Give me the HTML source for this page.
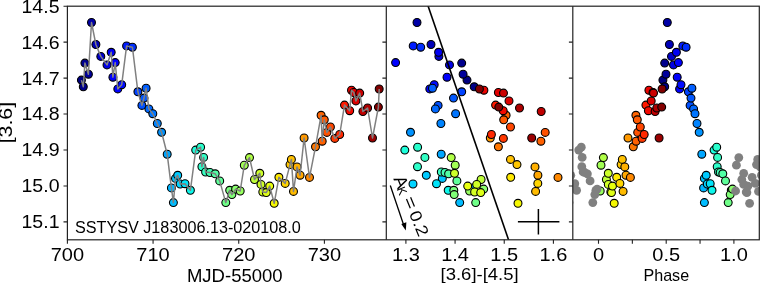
<!DOCTYPE html><html><head><meta charset="utf-8"><style>html,body{margin:0;padding:0;background:#fff;width:760px;height:285px;overflow:hidden}svg{display:block;will-change:transform}text{font-family:"Liberation Sans",sans-serif;fill:#000}</style></head><body><svg width="760" height="285" viewBox="0 0 760 285"><defs><clipPath id="c1"><rect x="67.4" y="6.2" width="318.9" height="233.60000000000002"/></clipPath><clipPath id="c2"><rect x="386.3" y="6.2" width="186.49999999999994" height="233.60000000000002"/></clipPath><clipPath id="c3"><rect x="572.8" y="6.2" width="186.5" height="233.60000000000002"/></clipPath></defs><rect width="760" height="285" fill="#fff"/><g clip-path="url(#c1)"><circle cx="81.4" cy="80.1" r="3.95" fill="#000080" stroke="#000" stroke-width="1.1"/><circle cx="83.3" cy="86.8" r="3.95" fill="#000087" stroke="#000" stroke-width="1.1"/><circle cx="84.9" cy="63.1" r="3.95" fill="#00008d" stroke="#000" stroke-width="1.1"/><circle cx="88.4" cy="74.2" r="3.95" fill="#00009b" stroke="#000" stroke-width="1.1"/><circle cx="91.5" cy="22.5" r="3.95" fill="#0000a7" stroke="#000" stroke-width="1.1"/><circle cx="95.9" cy="44.5" r="3.95" fill="#0000b8" stroke="#000" stroke-width="1.1"/><circle cx="100.8" cy="56.4" r="3.95" fill="#0000cb" stroke="#000" stroke-width="1.1"/><circle cx="107.0" cy="64.9" r="3.95" fill="#0000e3" stroke="#000" stroke-width="1.1"/><circle cx="111.2" cy="52.3" r="3.95" fill="#0000f3" stroke="#000" stroke-width="1.1"/><circle cx="112.9" cy="77.2" r="3.95" fill="#0000fa" stroke="#000" stroke-width="1.1"/><circle cx="115.2" cy="62.6" r="3.95" fill="#0000ff" stroke="#000" stroke-width="1.1"/><circle cx="117.8" cy="88.9" r="3.95" fill="#0000ff" stroke="#000" stroke-width="1.1"/><circle cx="121.7" cy="84.7" r="3.95" fill="#000bff" stroke="#000" stroke-width="1.1"/><circle cx="126.6" cy="45.9" r="3.95" fill="#001bff" stroke="#000" stroke-width="1.1"/><circle cx="132.4" cy="47.2" r="3.95" fill="#002fff" stroke="#000" stroke-width="1.1"/><circle cx="137.9" cy="91.8" r="3.95" fill="#0042ff" stroke="#000" stroke-width="1.1"/><circle cx="141.9" cy="105.4" r="3.95" fill="#0050ff" stroke="#000" stroke-width="1.1"/><circle cx="144.0" cy="98.1" r="3.95" fill="#0057ff" stroke="#000" stroke-width="1.1"/><circle cx="146.1" cy="88.2" r="3.95" fill="#005eff" stroke="#000" stroke-width="1.1"/><circle cx="148.9" cy="108.9" r="3.95" fill="#0068ff" stroke="#000" stroke-width="1.1"/><circle cx="152.8" cy="113.7" r="3.95" fill="#0075ff" stroke="#000" stroke-width="1.1"/><circle cx="157.3" cy="123.5" r="3.95" fill="#0084ff" stroke="#000" stroke-width="1.1"/><circle cx="161.6" cy="132.3" r="3.95" fill="#0093ff" stroke="#000" stroke-width="1.1"/><circle cx="167.2" cy="154.2" r="3.95" fill="#00a6ff" stroke="#000" stroke-width="1.1"/><circle cx="171.4" cy="187.9" r="3.95" fill="#00b5ff" stroke="#000" stroke-width="1.1"/><circle cx="173.4" cy="202.6" r="3.95" fill="#00bcff" stroke="#000" stroke-width="1.1"/><circle cx="175.5" cy="178.4" r="3.95" fill="#00c3ff" stroke="#000" stroke-width="1.1"/><circle cx="177.7" cy="175.3" r="3.95" fill="#00caff" stroke="#000" stroke-width="1.1"/><circle cx="180.2" cy="184.0" r="3.95" fill="#00d3ff" stroke="#000" stroke-width="1.1"/><circle cx="185.0" cy="183.7" r="3.95" fill="#00e3f9" stroke="#000" stroke-width="1.1"/><circle cx="190.4" cy="190.3" r="3.95" fill="#0df6ea" stroke="#000" stroke-width="1.1"/><circle cx="195.7" cy="150.1" r="3.95" fill="#1cffdb" stroke="#000" stroke-width="1.1"/><circle cx="200.6" cy="147.2" r="3.95" fill="#29ffcd" stroke="#000" stroke-width="1.1"/><circle cx="201.9" cy="166.7" r="3.95" fill="#2dffca" stroke="#000" stroke-width="1.1"/><circle cx="203.6" cy="157.4" r="3.95" fill="#32ffc5" stroke="#000" stroke-width="1.1"/><circle cx="205.6" cy="172.0" r="3.95" fill="#37ffc0" stroke="#000" stroke-width="1.1"/><circle cx="210.0" cy="172.5" r="3.95" fill="#43ffb3" stroke="#000" stroke-width="1.1"/><circle cx="215.2" cy="173.8" r="3.95" fill="#52ffa5" stroke="#000" stroke-width="1.1"/><circle cx="219.7" cy="180.9" r="3.95" fill="#5eff99" stroke="#000" stroke-width="1.1"/><circle cx="225.8" cy="202.6" r="3.95" fill="#6fff88" stroke="#000" stroke-width="1.1"/><circle cx="229.7" cy="190.3" r="3.95" fill="#7aff7d" stroke="#000" stroke-width="1.1"/><circle cx="231.9" cy="194.6" r="3.95" fill="#80ff77" stroke="#000" stroke-width="1.1"/><circle cx="235.6" cy="189.1" r="3.95" fill="#8aff6d" stroke="#000" stroke-width="1.1"/><circle cx="240.2" cy="191.0" r="3.95" fill="#97ff60" stroke="#000" stroke-width="1.1"/><circle cx="244.3" cy="165.2" r="3.95" fill="#a2ff55" stroke="#000" stroke-width="1.1"/><circle cx="249.5" cy="157.6" r="3.95" fill="#b0ff46" stroke="#000" stroke-width="1.1"/><circle cx="254.5" cy="179.5" r="3.95" fill="#beff39" stroke="#000" stroke-width="1.1"/><circle cx="259.8" cy="173.3" r="3.95" fill="#cdff2a" stroke="#000" stroke-width="1.1"/><circle cx="261.0" cy="184.4" r="3.95" fill="#d0ff27" stroke="#000" stroke-width="1.1"/><circle cx="262.8" cy="192.0" r="3.95" fill="#d5ff22" stroke="#000" stroke-width="1.1"/><circle cx="266.3" cy="192.6" r="3.95" fill="#dfff18" stroke="#000" stroke-width="1.1"/><circle cx="269.7" cy="186.1" r="3.95" fill="#e8ff0f" stroke="#000" stroke-width="1.1"/><circle cx="274.2" cy="203.3" r="3.95" fill="#f5f802" stroke="#000" stroke-width="1.1"/><circle cx="278.9" cy="177.3" r="3.95" fill="#ffe900" stroke="#000" stroke-width="1.1"/><circle cx="285.2" cy="183.4" r="3.95" fill="#ffd500" stroke="#000" stroke-width="1.1"/><circle cx="290.0" cy="164.6" r="3.95" fill="#ffc600" stroke="#000" stroke-width="1.1"/><circle cx="291.4" cy="159.4" r="3.95" fill="#ffc100" stroke="#000" stroke-width="1.1"/><circle cx="293.5" cy="191.4" r="3.95" fill="#ffbb00" stroke="#000" stroke-width="1.1"/><circle cx="297.0" cy="166.9" r="3.95" fill="#ffb000" stroke="#000" stroke-width="1.1"/><circle cx="300.1" cy="175.2" r="3.95" fill="#ffa600" stroke="#000" stroke-width="1.1"/><circle cx="304.1" cy="138.0" r="3.95" fill="#ff9900" stroke="#000" stroke-width="1.1"/><circle cx="309.5" cy="177.4" r="3.95" fill="#ff8800" stroke="#000" stroke-width="1.1"/><circle cx="315.5" cy="146.8" r="3.95" fill="#ff7500" stroke="#000" stroke-width="1.1"/><circle cx="321.1" cy="115.3" r="3.95" fill="#ff6300" stroke="#000" stroke-width="1.1"/><circle cx="322.2" cy="141.2" r="3.95" fill="#ff6000" stroke="#000" stroke-width="1.1"/><circle cx="324.3" cy="119.8" r="3.95" fill="#ff5900" stroke="#000" stroke-width="1.1"/><circle cx="326.9" cy="132.4" r="3.95" fill="#ff5100" stroke="#000" stroke-width="1.1"/><circle cx="330.4" cy="127.0" r="3.95" fill="#ff4600" stroke="#000" stroke-width="1.1"/><circle cx="334.8" cy="138.4" r="3.95" fill="#ff3800" stroke="#000" stroke-width="1.1"/><circle cx="339.7" cy="134.5" r="3.95" fill="#ff2800" stroke="#000" stroke-width="1.1"/><circle cx="344.5" cy="105.1" r="3.95" fill="#ff1900" stroke="#000" stroke-width="1.1"/><circle cx="349.7" cy="110.7" r="3.95" fill="#f20900" stroke="#000" stroke-width="1.1"/><circle cx="351.5" cy="90.2" r="3.95" fill="#eb0300" stroke="#000" stroke-width="1.1"/><circle cx="353.8" cy="92.5" r="3.95" fill="#e20000" stroke="#000" stroke-width="1.1"/><circle cx="355.9" cy="100.9" r="3.95" fill="#da0000" stroke="#000" stroke-width="1.1"/><circle cx="359.7" cy="93.1" r="3.95" fill="#cb0000" stroke="#000" stroke-width="1.1"/><circle cx="362.9" cy="111.5" r="3.95" fill="#bf0000" stroke="#000" stroke-width="1.1"/><circle cx="367.6" cy="108.0" r="3.95" fill="#ad0000" stroke="#000" stroke-width="1.1"/><circle cx="372.5" cy="138.0" r="3.95" fill="#9a0000" stroke="#000" stroke-width="1.1"/><circle cx="378.4" cy="107.1" r="3.95" fill="#830000" stroke="#000" stroke-width="1.1"/><circle cx="379.2" cy="89.0" r="3.95" fill="#800000" stroke="#000" stroke-width="1.1"/><polyline points="81.4,80.1 83.3,86.8 84.9,63.1 88.4,74.2 91.5,22.5 95.9,44.5 100.8,56.4 107.0,64.9 111.2,52.3 112.9,77.2 115.2,62.6 117.8,88.9 121.7,84.7 126.6,45.9 132.4,47.2 137.9,91.8 141.9,105.4 144.0,98.1 146.1,88.2 148.9,108.9 152.8,113.7 157.3,123.5 161.6,132.3 167.2,154.2 171.4,187.9 173.4,202.6 175.5,178.4 177.7,175.3 180.2,184.0 185.0,183.7 190.4,190.3 195.7,150.1 200.6,147.2 201.9,166.7 203.6,157.4 205.6,172.0 210.0,172.5 215.2,173.8 219.7,180.9 225.8,202.6 229.7,190.3 231.9,194.6 235.6,189.1 240.2,191.0 244.3,165.2 249.5,157.6 254.5,179.5 259.8,173.3 261.0,184.4 262.8,192.0 266.3,192.6 269.7,186.1 274.2,203.3 278.9,177.3 285.2,183.4 290.0,164.6 291.4,159.4 293.5,191.4 297.0,166.9 300.1,175.2 304.1,138.0 309.5,177.4 315.5,146.8 321.1,115.3 322.2,141.2 324.3,119.8 326.9,132.4 330.4,127.0 334.8,138.4 339.7,134.5 344.5,105.1 349.7,110.7 351.5,90.2 353.8,92.5 355.9,100.9 359.7,93.1 362.9,111.5 367.6,108.0 372.5,138.0 378.4,107.1 379.2,89.0" fill="none" stroke="#808080" stroke-width="1.5" stroke-linejoin="round"/></g><g clip-path="url(#c2)"><circle cx="467.0" cy="80.1" r="3.95" fill="#000080" stroke="#000" stroke-width="1.1"/><circle cx="474.2" cy="86.8" r="3.95" fill="#000087" stroke="#000" stroke-width="1.1"/><circle cx="461.7" cy="63.1" r="3.95" fill="#00008d" stroke="#000" stroke-width="1.1"/><circle cx="463.1" cy="74.2" r="3.95" fill="#00009b" stroke="#000" stroke-width="1.1"/><circle cx="417.0" cy="22.5" r="3.95" fill="#0000a7" stroke="#000" stroke-width="1.1"/><circle cx="431.0" cy="44.5" r="3.95" fill="#0000b8" stroke="#000" stroke-width="1.1"/><circle cx="438.9" cy="56.4" r="3.95" fill="#0000cb" stroke="#000" stroke-width="1.1"/><circle cx="449.5" cy="64.9" r="3.95" fill="#0000e3" stroke="#000" stroke-width="1.1"/><circle cx="438.6" cy="52.3" r="3.95" fill="#0000f3" stroke="#000" stroke-width="1.1"/><circle cx="447.0" cy="77.2" r="3.95" fill="#0000fa" stroke="#000" stroke-width="1.1"/><circle cx="395.6" cy="62.6" r="3.95" fill="#0000ff" stroke="#000" stroke-width="1.1"/><circle cx="429.8" cy="88.9" r="3.95" fill="#0000ff" stroke="#000" stroke-width="1.1"/><circle cx="434.2" cy="84.7" r="3.95" fill="#000bff" stroke="#000" stroke-width="1.1"/><circle cx="413.2" cy="45.9" r="3.95" fill="#001bff" stroke="#000" stroke-width="1.1"/><circle cx="420.7" cy="47.2" r="3.95" fill="#002fff" stroke="#000" stroke-width="1.1"/><circle cx="461.7" cy="91.8" r="3.95" fill="#0042ff" stroke="#000" stroke-width="1.1"/><circle cx="438.1" cy="105.4" r="3.95" fill="#0050ff" stroke="#000" stroke-width="1.1"/><circle cx="453.5" cy="98.1" r="3.95" fill="#0057ff" stroke="#000" stroke-width="1.1"/><circle cx="432.5" cy="88.2" r="3.95" fill="#005eff" stroke="#000" stroke-width="1.1"/><circle cx="435.4" cy="108.9" r="3.95" fill="#0068ff" stroke="#000" stroke-width="1.1"/><circle cx="455.6" cy="113.7" r="3.95" fill="#0075ff" stroke="#000" stroke-width="1.1"/><circle cx="440.9" cy="123.5" r="3.95" fill="#0084ff" stroke="#000" stroke-width="1.1"/><circle cx="410.5" cy="132.3" r="3.95" fill="#0093ff" stroke="#000" stroke-width="1.1"/><circle cx="441.2" cy="154.2" r="3.95" fill="#00a6ff" stroke="#000" stroke-width="1.1"/><circle cx="472.6" cy="187.9" r="3.95" fill="#00b5ff" stroke="#000" stroke-width="1.1"/><circle cx="459.7" cy="202.6" r="3.95" fill="#00bcff" stroke="#000" stroke-width="1.1"/><circle cx="442.3" cy="178.4" r="3.95" fill="#00c3ff" stroke="#000" stroke-width="1.1"/><circle cx="426.3" cy="175.3" r="3.95" fill="#00caff" stroke="#000" stroke-width="1.1"/><circle cx="413.0" cy="184.0" r="3.95" fill="#00d3ff" stroke="#000" stroke-width="1.1"/><circle cx="436.5" cy="183.7" r="3.95" fill="#00e3f9" stroke="#000" stroke-width="1.1"/><circle cx="448.2" cy="190.3" r="3.95" fill="#0df6ea" stroke="#000" stroke-width="1.1"/><circle cx="404.8" cy="150.1" r="3.95" fill="#1cffdb" stroke="#000" stroke-width="1.1"/><circle cx="417.6" cy="147.2" r="3.95" fill="#29ffcd" stroke="#000" stroke-width="1.1"/><circle cx="417.5" cy="166.7" r="3.95" fill="#2dffca" stroke="#000" stroke-width="1.1"/><circle cx="424.9" cy="157.4" r="3.95" fill="#32ffc5" stroke="#000" stroke-width="1.1"/><circle cx="441.3" cy="172.0" r="3.95" fill="#37ffc0" stroke="#000" stroke-width="1.1"/><circle cx="445.0" cy="172.5" r="3.95" fill="#43ffb3" stroke="#000" stroke-width="1.1"/><circle cx="448.6" cy="173.8" r="3.95" fill="#52ffa5" stroke="#000" stroke-width="1.1"/><circle cx="456.9" cy="180.9" r="3.95" fill="#5eff99" stroke="#000" stroke-width="1.1"/><circle cx="475.7" cy="202.6" r="3.95" fill="#6fff88" stroke="#000" stroke-width="1.1"/><circle cx="453.8" cy="190.3" r="3.95" fill="#7aff7d" stroke="#000" stroke-width="1.1"/><circle cx="454.2" cy="194.6" r="3.95" fill="#80ff77" stroke="#000" stroke-width="1.1"/><circle cx="483.7" cy="189.1" r="3.95" fill="#8aff6d" stroke="#000" stroke-width="1.1"/><circle cx="469.6" cy="191.0" r="3.95" fill="#97ff60" stroke="#000" stroke-width="1.1"/><circle cx="455.2" cy="165.2" r="3.95" fill="#a2ff55" stroke="#000" stroke-width="1.1"/><circle cx="451.2" cy="157.6" r="3.95" fill="#b0ff46" stroke="#000" stroke-width="1.1"/><circle cx="481.1" cy="179.5" r="3.95" fill="#beff39" stroke="#000" stroke-width="1.1"/><circle cx="454.5" cy="173.3" r="3.95" fill="#cdff2a" stroke="#000" stroke-width="1.1"/><circle cx="476.7" cy="184.4" r="3.95" fill="#d0ff27" stroke="#000" stroke-width="1.1"/><circle cx="474.6" cy="192.0" r="3.95" fill="#d5ff22" stroke="#000" stroke-width="1.1"/><circle cx="480.7" cy="192.6" r="3.95" fill="#dfff18" stroke="#000" stroke-width="1.1"/><circle cx="467.7" cy="186.1" r="3.95" fill="#e8ff0f" stroke="#000" stroke-width="1.1"/><circle cx="518.0" cy="203.3" r="3.95" fill="#f5f802" stroke="#000" stroke-width="1.1"/><circle cx="510.7" cy="177.3" r="3.95" fill="#ffe900" stroke="#000" stroke-width="1.1"/><circle cx="537.8" cy="183.4" r="3.95" fill="#ffd500" stroke="#000" stroke-width="1.1"/><circle cx="517.0" cy="164.6" r="3.95" fill="#ffc600" stroke="#000" stroke-width="1.1"/><circle cx="510.5" cy="159.4" r="3.95" fill="#ffc100" stroke="#000" stroke-width="1.1"/><circle cx="535.6" cy="191.4" r="3.95" fill="#ffbb00" stroke="#000" stroke-width="1.1"/><circle cx="535.0" cy="166.9" r="3.95" fill="#ffb000" stroke="#000" stroke-width="1.1"/><circle cx="537.9" cy="175.2" r="3.95" fill="#ffa600" stroke="#000" stroke-width="1.1"/><circle cx="490.3" cy="138.0" r="3.95" fill="#ff9900" stroke="#000" stroke-width="1.1"/><circle cx="558.0" cy="177.4" r="3.95" fill="#ff8800" stroke="#000" stroke-width="1.1"/><circle cx="498.4" cy="146.8" r="3.95" fill="#ff7500" stroke="#000" stroke-width="1.1"/><circle cx="506.1" cy="115.3" r="3.95" fill="#ff6300" stroke="#000" stroke-width="1.1"/><circle cx="540.9" cy="141.2" r="3.95" fill="#ff6000" stroke="#000" stroke-width="1.1"/><circle cx="503.7" cy="119.8" r="3.95" fill="#ff5900" stroke="#000" stroke-width="1.1"/><circle cx="545.2" cy="132.4" r="3.95" fill="#ff5100" stroke="#000" stroke-width="1.1"/><circle cx="510.5" cy="127.0" r="3.95" fill="#ff4600" stroke="#000" stroke-width="1.1"/><circle cx="503.4" cy="138.4" r="3.95" fill="#ff3800" stroke="#000" stroke-width="1.1"/><circle cx="491.4" cy="134.5" r="3.95" fill="#ff2800" stroke="#000" stroke-width="1.1"/><circle cx="495.6" cy="105.1" r="3.95" fill="#ff1900" stroke="#000" stroke-width="1.1"/><circle cx="503.2" cy="110.7" r="3.95" fill="#f20900" stroke="#000" stroke-width="1.1"/><circle cx="483.9" cy="90.2" r="3.95" fill="#eb0300" stroke="#000" stroke-width="1.1"/><circle cx="498.4" cy="92.5" r="3.95" fill="#e20000" stroke="#000" stroke-width="1.1"/><circle cx="509.0" cy="100.9" r="3.95" fill="#da0000" stroke="#000" stroke-width="1.1"/><circle cx="503.5" cy="93.1" r="3.95" fill="#cb0000" stroke="#000" stroke-width="1.1"/><circle cx="541.2" cy="111.5" r="3.95" fill="#bf0000" stroke="#000" stroke-width="1.1"/><circle cx="519.5" cy="108.0" r="3.95" fill="#ad0000" stroke="#000" stroke-width="1.1"/><circle cx="531.7" cy="138.0" r="3.95" fill="#9a0000" stroke="#000" stroke-width="1.1"/><circle cx="498.8" cy="107.1" r="3.95" fill="#830000" stroke="#000" stroke-width="1.1"/><circle cx="479.4" cy="89.0" r="3.95" fill="#800000" stroke="#000" stroke-width="1.1"/><line x1="426.0" y1="0" x2="510.0" y2="244" stroke="#000" stroke-width="1.6"/><path d="M517.9 221.8H559.4M538.4 208.9V234.4" stroke="#000" stroke-width="1.5" fill="none"/><path d="M390.3 185.5L404.1 226.3" stroke="#000" stroke-width="1.3" fill="none"/><path d="M405.8 230.6L401.3 224.0L406.4 222.3Z" fill="#000"/></g><g clip-path="url(#c3)"><circle cx="662.9" cy="80.1" r="3.95" fill="#000080" stroke="#000" stroke-width="1.1"/><circle cx="664.7" cy="86.8" r="3.95" fill="#000087" stroke="#000" stroke-width="1.1"/><circle cx="664.7" cy="63.1" r="3.95" fill="#00008d" stroke="#000" stroke-width="1.1"/><circle cx="666.0" cy="74.2" r="3.95" fill="#00009b" stroke="#000" stroke-width="1.1"/><circle cx="667.3" cy="22.5" r="3.95" fill="#0000a7" stroke="#000" stroke-width="1.1"/><circle cx="669.4" cy="44.5" r="3.95" fill="#0000b8" stroke="#000" stroke-width="1.1"/><circle cx="671.5" cy="56.4" r="3.95" fill="#0000cb" stroke="#000" stroke-width="1.1"/><circle cx="673.5" cy="64.9" r="3.95" fill="#0000e3" stroke="#000" stroke-width="1.1"/><circle cx="676.4" cy="52.3" r="3.95" fill="#0000f3" stroke="#000" stroke-width="1.1"/><circle cx="677.2" cy="77.2" r="3.95" fill="#0000fa" stroke="#000" stroke-width="1.1"/><circle cx="678.4" cy="62.6" r="3.95" fill="#0000ff" stroke="#000" stroke-width="1.1"/><circle cx="679.6" cy="88.9" r="3.95" fill="#0000ff" stroke="#000" stroke-width="1.1"/><circle cx="681.0" cy="84.7" r="3.95" fill="#000bff" stroke="#000" stroke-width="1.1"/><circle cx="682.8" cy="45.9" r="3.95" fill="#001bff" stroke="#000" stroke-width="1.1"/><circle cx="686.1" cy="47.2" r="3.95" fill="#002fff" stroke="#000" stroke-width="1.1"/><circle cx="688.4" cy="91.8" r="3.95" fill="#0042ff" stroke="#000" stroke-width="1.1"/><circle cx="690.1" cy="105.4" r="3.95" fill="#0050ff" stroke="#000" stroke-width="1.1"/><circle cx="691.0" cy="98.1" r="3.95" fill="#0057ff" stroke="#000" stroke-width="1.1"/><circle cx="691.9" cy="88.2" r="3.95" fill="#005eff" stroke="#000" stroke-width="1.1"/><circle cx="693.6" cy="108.9" r="3.95" fill="#0068ff" stroke="#000" stroke-width="1.1"/><circle cx="695.0" cy="113.7" r="3.95" fill="#0075ff" stroke="#000" stroke-width="1.1"/><circle cx="697.0" cy="123.5" r="3.95" fill="#0084ff" stroke="#000" stroke-width="1.1"/><circle cx="699.2" cy="132.3" r="3.95" fill="#0093ff" stroke="#000" stroke-width="1.1"/><circle cx="701.8" cy="154.2" r="3.95" fill="#00a6ff" stroke="#000" stroke-width="1.1"/><circle cx="703.6" cy="187.9" r="3.95" fill="#00b5ff" stroke="#000" stroke-width="1.1"/><circle cx="704.4" cy="202.6" r="3.95" fill="#00bcff" stroke="#000" stroke-width="1.1"/><circle cx="704.4" cy="178.4" r="3.95" fill="#00c3ff" stroke="#000" stroke-width="1.1"/><circle cx="706.2" cy="175.3" r="3.95" fill="#00caff" stroke="#000" stroke-width="1.1"/><circle cx="707.3" cy="184.0" r="3.95" fill="#00d3ff" stroke="#000" stroke-width="1.1"/><circle cx="710.2" cy="183.7" r="3.95" fill="#00e3f9" stroke="#000" stroke-width="1.1"/><circle cx="712.0" cy="190.3" r="3.95" fill="#0df6ea" stroke="#000" stroke-width="1.1"/><circle cx="714.1" cy="150.1" r="3.95" fill="#1cffdb" stroke="#000" stroke-width="1.1"/><circle cx="716.7" cy="147.2" r="3.95" fill="#29ffcd" stroke="#000" stroke-width="1.1"/><circle cx="717.2" cy="166.7" r="3.95" fill="#2dffca" stroke="#000" stroke-width="1.1"/><circle cx="717.6" cy="157.4" r="3.95" fill="#32ffc5" stroke="#000" stroke-width="1.1"/><circle cx="718.5" cy="172.0" r="3.95" fill="#37ffc0" stroke="#000" stroke-width="1.1"/><circle cx="720.2" cy="172.5" r="3.95" fill="#43ffb3" stroke="#000" stroke-width="1.1"/><circle cx="722.8" cy="173.8" r="3.95" fill="#52ffa5" stroke="#000" stroke-width="1.1"/><circle cx="725.5" cy="180.9" r="3.95" fill="#5eff99" stroke="#000" stroke-width="1.1"/><circle cx="728.2" cy="202.6" r="3.95" fill="#6fff88" stroke="#000" stroke-width="1.1"/><circle cx="731.3" cy="190.3" r="3.95" fill="#7aff7d" stroke="#000" stroke-width="1.1"/><circle cx="730.2" cy="194.6" r="3.95" fill="#80ff77" stroke="#000" stroke-width="1.1"/><circle cx="732.5" cy="189.1" r="3.95" fill="#8aff6d" stroke="#000" stroke-width="1.1"/><circle cx="600.2" cy="191.0" r="3.95" fill="#97ff60" stroke="#000" stroke-width="1.1"/><circle cx="601.0" cy="165.2" r="3.95" fill="#a2ff55" stroke="#000" stroke-width="1.1"/><circle cx="603.4" cy="157.6" r="3.95" fill="#b0ff46" stroke="#000" stroke-width="1.1"/><circle cx="606.4" cy="179.5" r="3.95" fill="#beff39" stroke="#000" stroke-width="1.1"/><circle cx="608.3" cy="173.3" r="3.95" fill="#cdff2a" stroke="#000" stroke-width="1.1"/><circle cx="608.3" cy="184.4" r="3.95" fill="#d0ff27" stroke="#000" stroke-width="1.1"/><circle cx="610.8" cy="192.0" r="3.95" fill="#d5ff22" stroke="#000" stroke-width="1.1"/><circle cx="611.5" cy="192.6" r="3.95" fill="#dfff18" stroke="#000" stroke-width="1.1"/><circle cx="612.5" cy="186.1" r="3.95" fill="#e8ff0f" stroke="#000" stroke-width="1.1"/><circle cx="614.2" cy="203.3" r="3.95" fill="#f5f802" stroke="#000" stroke-width="1.1"/><circle cx="616.7" cy="177.3" r="3.95" fill="#ffe900" stroke="#000" stroke-width="1.1"/><circle cx="619.9" cy="183.4" r="3.95" fill="#ffd500" stroke="#000" stroke-width="1.1"/><circle cx="621.1" cy="164.6" r="3.95" fill="#ffc600" stroke="#000" stroke-width="1.1"/><circle cx="622.3" cy="159.4" r="3.95" fill="#ffc100" stroke="#000" stroke-width="1.1"/><circle cx="623.1" cy="191.4" r="3.95" fill="#ffbb00" stroke="#000" stroke-width="1.1"/><circle cx="624.8" cy="166.9" r="3.95" fill="#ffb000" stroke="#000" stroke-width="1.1"/><circle cx="626.0" cy="175.2" r="3.95" fill="#ffa600" stroke="#000" stroke-width="1.1"/><circle cx="628.0" cy="138.0" r="3.95" fill="#ff9900" stroke="#000" stroke-width="1.1"/><circle cx="630.4" cy="177.4" r="3.95" fill="#ff8800" stroke="#000" stroke-width="1.1"/><circle cx="633.3" cy="146.8" r="3.95" fill="#ff7500" stroke="#000" stroke-width="1.1"/><circle cx="635.9" cy="115.3" r="3.95" fill="#ff6300" stroke="#000" stroke-width="1.1"/><circle cx="636.1" cy="141.2" r="3.95" fill="#ff6000" stroke="#000" stroke-width="1.1"/><circle cx="637.3" cy="119.8" r="3.95" fill="#ff5900" stroke="#000" stroke-width="1.1"/><circle cx="637.7" cy="132.4" r="3.95" fill="#ff5100" stroke="#000" stroke-width="1.1"/><circle cx="640.3" cy="127.0" r="3.95" fill="#ff4600" stroke="#000" stroke-width="1.1"/><circle cx="642.1" cy="138.4" r="3.95" fill="#ff3800" stroke="#000" stroke-width="1.1"/><circle cx="644.2" cy="134.5" r="3.95" fill="#ff2800" stroke="#000" stroke-width="1.1"/><circle cx="645.9" cy="105.1" r="3.95" fill="#ff1900" stroke="#000" stroke-width="1.1"/><circle cx="648.4" cy="110.7" r="3.95" fill="#f20900" stroke="#000" stroke-width="1.1"/><circle cx="648.9" cy="90.2" r="3.95" fill="#eb0300" stroke="#000" stroke-width="1.1"/><circle cx="653.0" cy="92.5" r="3.95" fill="#e20000" stroke="#000" stroke-width="1.1"/><circle cx="651.2" cy="100.9" r="3.95" fill="#da0000" stroke="#000" stroke-width="1.1"/><circle cx="653.5" cy="93.1" r="3.95" fill="#cb0000" stroke="#000" stroke-width="1.1"/><circle cx="655.1" cy="111.5" r="3.95" fill="#bf0000" stroke="#000" stroke-width="1.1"/><circle cx="656.8" cy="108.0" r="3.95" fill="#ad0000" stroke="#000" stroke-width="1.1"/><circle cx="659.1" cy="138.0" r="3.95" fill="#9a0000" stroke="#000" stroke-width="1.1"/><circle cx="661.7" cy="107.1" r="3.95" fill="#830000" stroke="#000" stroke-width="1.1"/><circle cx="662.1" cy="89.0" r="3.95" fill="#800000" stroke="#000" stroke-width="1.1"/><circle cx="568.2" cy="187.9" r="4.4" fill="#808080"/><circle cx="569.0" cy="202.6" r="4.4" fill="#808080"/><circle cx="569.0" cy="178.4" r="4.4" fill="#808080"/><circle cx="570.8" cy="175.3" r="4.4" fill="#808080"/><circle cx="571.9" cy="184.0" r="4.4" fill="#808080"/><circle cx="574.8" cy="183.7" r="4.4" fill="#808080"/><circle cx="576.6" cy="190.3" r="4.4" fill="#808080"/><circle cx="578.7" cy="150.1" r="4.4" fill="#808080"/><circle cx="581.3" cy="147.2" r="4.4" fill="#808080"/><circle cx="581.8" cy="166.7" r="4.4" fill="#808080"/><circle cx="582.2" cy="157.4" r="4.4" fill="#808080"/><circle cx="583.1" cy="172.0" r="4.4" fill="#808080"/><circle cx="584.8" cy="172.5" r="4.4" fill="#808080"/><circle cx="587.4" cy="173.8" r="4.4" fill="#808080"/><circle cx="590.1" cy="180.9" r="4.4" fill="#808080"/><circle cx="592.8" cy="202.6" r="4.4" fill="#808080"/><circle cx="595.9" cy="190.3" r="4.4" fill="#808080"/><circle cx="594.8" cy="194.6" r="4.4" fill="#808080"/><circle cx="597.1" cy="189.1" r="4.4" fill="#808080"/><circle cx="735.6" cy="191.0" r="4.4" fill="#808080"/><circle cx="736.4" cy="165.2" r="4.4" fill="#808080"/><circle cx="738.8" cy="157.6" r="4.4" fill="#808080"/><circle cx="741.8" cy="179.5" r="4.4" fill="#808080"/><circle cx="743.7" cy="173.3" r="4.4" fill="#808080"/><circle cx="743.7" cy="184.4" r="4.4" fill="#808080"/><circle cx="746.2" cy="192.0" r="4.4" fill="#808080"/><circle cx="746.9" cy="192.6" r="4.4" fill="#808080"/><circle cx="747.9" cy="186.1" r="4.4" fill="#808080"/><circle cx="749.6" cy="203.3" r="4.4" fill="#808080"/><circle cx="752.1" cy="177.3" r="4.4" fill="#808080"/><circle cx="755.3" cy="183.4" r="4.4" fill="#808080"/><circle cx="756.5" cy="164.6" r="4.4" fill="#808080"/><circle cx="757.7" cy="159.4" r="4.4" fill="#808080"/><circle cx="758.5" cy="191.4" r="4.4" fill="#808080"/><circle cx="760.2" cy="166.9" r="4.4" fill="#808080"/><circle cx="761.4" cy="175.2" r="4.4" fill="#808080"/><circle cx="763.4" cy="138.0" r="4.4" fill="#808080"/></g><g fill="none" stroke="#222" stroke-width="1.2"><rect x="67.4" y="6.2" width="691.9" height="233.60000000000002"/><line x1="386.3" y1="6.2" x2="386.3" y2="239.8"/><line x1="572.8" y1="6.2" x2="572.8" y2="239.8"/></g><path d="M63.50 6.20H67.40M63.50 42.15H67.40M382.40 42.15H386.30M568.90 42.15H572.80M63.50 78.10H67.40M382.40 78.10H386.30M568.90 78.10H572.80M63.50 114.05H67.40M382.40 114.05H386.30M568.90 114.05H572.80M63.50 150.00H67.40M382.40 150.00H386.30M568.90 150.00H572.80M63.50 185.95H67.40M382.40 185.95H386.30M568.90 185.95H572.80M63.50 221.90H67.40M382.40 221.90H386.30M568.90 221.90H572.80M67.40 239.8V243.70M153.07 239.8V243.70M238.74 239.8V243.70M324.41 239.8V243.70M405.90 239.8V243.70M455.07 239.8V243.70M504.24 239.8V243.70M553.41 239.8V243.70M598.50 239.8V243.70M632.35 239.8V243.70M666.20 239.8V243.70M700.05 239.8V243.70M733.90 239.8V243.70" stroke="#222" stroke-width="1.1" fill="none"/><text x="59.5" y="12.60" font-size="17.8" text-anchor="end" textLength="38.0" lengthAdjust="spacingAndGlyphs">14.5</text><text x="59.5" y="48.55" font-size="17.8" text-anchor="end" textLength="38.0" lengthAdjust="spacingAndGlyphs">14.6</text><text x="59.5" y="84.50" font-size="17.8" text-anchor="end" textLength="38.0" lengthAdjust="spacingAndGlyphs">14.7</text><text x="59.5" y="120.45" font-size="17.8" text-anchor="end" textLength="38.0" lengthAdjust="spacingAndGlyphs">14.8</text><text x="59.5" y="156.40" font-size="17.8" text-anchor="end" textLength="38.0" lengthAdjust="spacingAndGlyphs">14.9</text><text x="59.5" y="192.35" font-size="17.8" text-anchor="end" textLength="38.0" lengthAdjust="spacingAndGlyphs">15.0</text><text x="59.5" y="228.30" font-size="17.8" text-anchor="end" textLength="38.0" lengthAdjust="spacingAndGlyphs">15.1</text><text x="67.40" y="261.20" font-size="17.8" text-anchor="middle" textLength="33.40" lengthAdjust="spacingAndGlyphs">700</text><text x="153.07" y="261.20" font-size="17.8" text-anchor="middle" textLength="33.40" lengthAdjust="spacingAndGlyphs">710</text><text x="238.74" y="261.20" font-size="17.8" text-anchor="middle" textLength="33.40" lengthAdjust="spacingAndGlyphs">720</text><text x="324.41" y="261.20" font-size="17.8" text-anchor="middle" textLength="33.40" lengthAdjust="spacingAndGlyphs">730</text><text x="405.90" y="261.20" font-size="17.8" text-anchor="middle" textLength="27.83" lengthAdjust="spacingAndGlyphs">1.3</text><text x="455.07" y="261.20" font-size="17.8" text-anchor="middle" textLength="27.83" lengthAdjust="spacingAndGlyphs">1.4</text><text x="504.24" y="261.20" font-size="17.8" text-anchor="middle" textLength="27.83" lengthAdjust="spacingAndGlyphs">1.5</text><text x="553.41" y="261.20" font-size="17.8" text-anchor="middle" textLength="27.83" lengthAdjust="spacingAndGlyphs">1.6</text><text x="598.50" y="261.20" font-size="17.8" text-anchor="middle" textLength="11.13" lengthAdjust="spacingAndGlyphs">0</text><text x="666.20" y="261.20" font-size="17.8" text-anchor="middle" textLength="27.83" lengthAdjust="spacingAndGlyphs">0.5</text><text x="733.90" y="261.20" font-size="17.8" text-anchor="middle" textLength="27.83" lengthAdjust="spacingAndGlyphs">1.0</text><text x="234.80" y="281.60" font-size="17.8" text-anchor="middle" textLength="95.72" lengthAdjust="spacingAndGlyphs">MJD-55000</text><text x="479.60" y="280.40" font-size="16.2" text-anchor="middle" textLength="78.06" lengthAdjust="spacingAndGlyphs">[3.6]-[4.5]</text><text x="666.30" y="280.60" font-size="16.2" text-anchor="middle" textLength="45.68" lengthAdjust="spacingAndGlyphs">Phase</text><g transform="translate(12.4,122.6) rotate(-90)"><text x="0.00" y="0.00" font-size="17.8" text-anchor="middle" textLength="41.49" lengthAdjust="spacingAndGlyphs">[3.6]</text></g><text x="74.90" y="232.90" font-size="16.3" text-anchor="start" textLength="225.94" lengthAdjust="spacingAndGlyphs">SSTYSV J183006.13-020108.0</text><g transform="translate(401.4,181.8) rotate(67.5)"><text x="0.00" y="6.30" font-size="17.8" text-anchor="middle" textLength="11.97" lengthAdjust="spacingAndGlyphs">A</text><text x="8.60" y="7.30" font-size="12.4" text-anchor="middle" textLength="8.00" lengthAdjust="spacingAndGlyphs">K</text><text x="22.9" y="5.6" font-size="17.8" text-anchor="middle" textLength="12" lengthAdjust="spacingAndGlyphs">=</text><text x="32.00" y="5.40" font-size="16.6" text-anchor="start" textLength="26.08" lengthAdjust="spacingAndGlyphs">0.2</text></g></svg></body></html>
